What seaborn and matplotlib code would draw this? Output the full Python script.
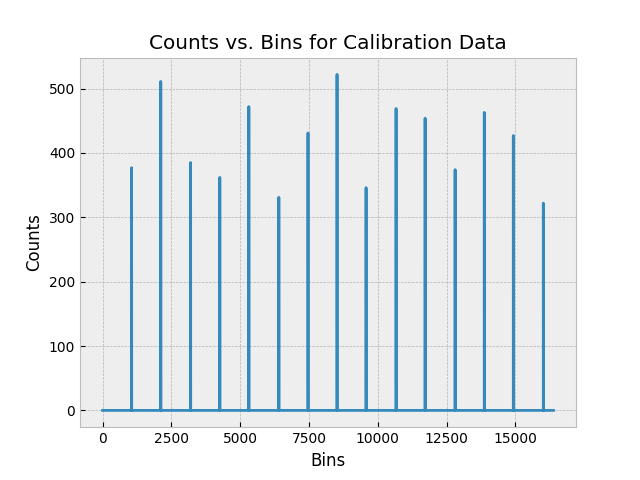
import numpy as np
import pandas as pd
import matplotlib
matplotlib.use("Agg")
import matplotlib.pyplot as plt
import seaborn as sns

plt.style.use("bmh")

# Calibration peaks
n_bins = 16384
peak_bins = [1056, 2115, 3200, 4260, 5315, 6405, 7465, 8520, 9575,
             10665, 11720, 12810, 13870, 14925, 16015]
peak_counts = [377, 511, 385, 362, 472, 331, 431, 522, 346,
               469, 454, 374, 463, 427, 322]

bins = np.arange(n_bins)
counts = np.zeros(n_bins)
counts[peak_bins] = peak_counts

df = pd.DataFrame({"Bins": bins, "Counts": counts})

fig, ax = plt.subplots(figsize=(6.4, 4.8), dpi=100)
sns.lineplot(data=df, x="Bins", y="Counts", ax=ax, color="#348ABD", linewidth=2)
ax.set_title("Counts vs. Bins for Calibration Data")
ax.set_xlabel("Bins")
ax.set_ylabel("Counts")

fig.savefig("out.png", dpi=100)
